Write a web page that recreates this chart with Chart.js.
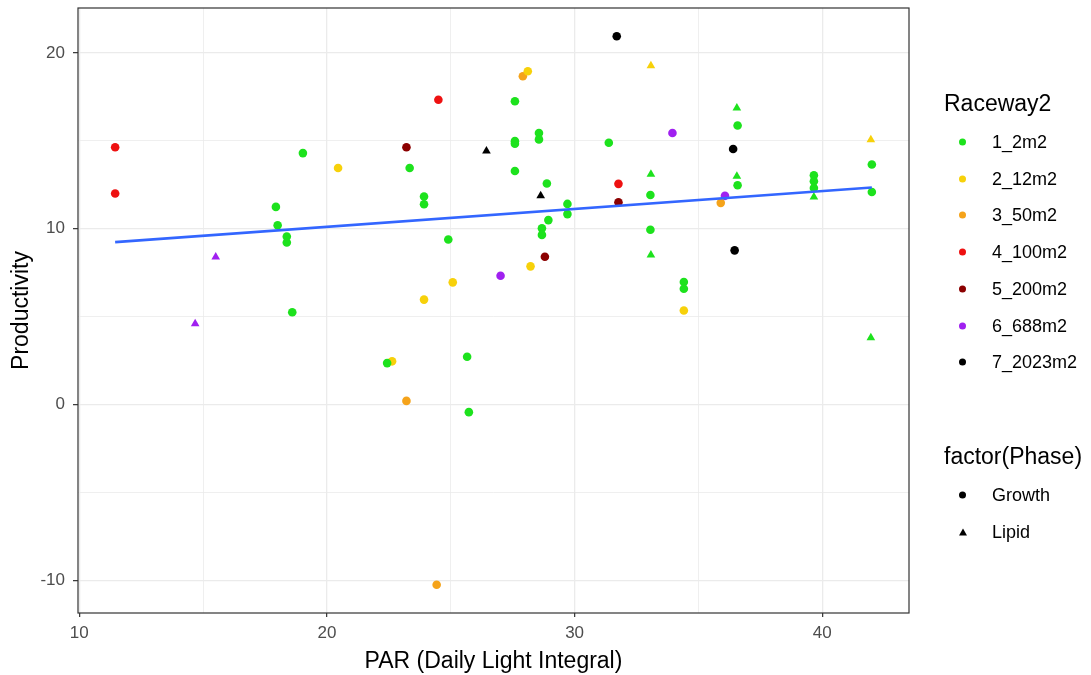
<!DOCTYPE html>
<html>
<head>
<meta charset="utf-8">
<script src="https://cdn.jsdelivr.net/npm/chart.js@4.4.0/dist/chart.umd.min.js"></script>
<style>
  body { margin: 0; background: #fff; font-family: "Liberation Sans", Arial, sans-serif; }
  #wrap { position: relative; width: 1091px; height: 675px; }
  #legend div { position: absolute; white-space: nowrap; transform: translateY(-50%); }
  .ttl { font-size: 23px; color: #000; }
  .lab { font-size: 18px; color: #000; }
  .dot { width: 7px; height: 7px; border-radius: 50%; }
  .tri { width: 0; height: 0; border-left: 4px solid transparent; border-right: 4px solid transparent; border-bottom: 7px solid #000; }
</style>
</head>
<body>
<div id="wrap">
  <canvas id="chart" width="1091" height="675"></canvas>
  <div id="legend"></div>
</div>
<script>
// legend groups
const raceways = ["1_2m2", "2_12m2", "3_50m2", "4_100m2", "5_200m2", "6_688m2", "7_2023m2"];
const raceColors = ["#1de21d", "#f7d10a", "#f5a31a", "#ee1111", "#8b0000", "#a020f0", "#000000"];
const phases = ["Growth", "Lipid"];

// one entry per observation: PAR, productivity, raceway index, phase index
const par = [
  19.03, 23.34, 17.94, 23.92, 23.92, 18.01, 18.38, 18.38, 24.9, 18.6, 22.43, 25.66, 25.73,
  27.59, 28.56, 28.56, 27.59, 27.59, 31.38, 36.58, 42.0, 27.59, 36.58, 28.88, 33.06,
  39.66, 39.66, 39.66, 42.0, 29.71, 29.71, 28.94, 28.68, 28.68, 33.06, 34.41, 34.41,
  36.55, 33.08, 36.55, 33.08, 39.66, 41.96,
  20.45, 25.08, 23.92, 28.11, 28.22, 34.41, 22.63,
  33.08, 41.96,
  27.91, 35.9, 23.21, 24.43,
  11.45, 11.45, 24.5, 31.77,
  23.21, 31.77, 28.8,
  27.01, 33.95, 36.07,
  15.51, 14.68,
  31.7, 36.4, 36.46,
  26.44, 28.63
];
const productivity = [
  14.3, 13.45, 11.24, 11.83, 11.39, 10.2, 9.56, 9.22, 9.39, 5.25, 2.36, 2.72, -0.43,
  17.25, 15.44, 15.08, 14.98, 14.83, 14.89, 15.87, 13.65, 13.28, 12.47, 12.57, 11.92,
  13.04, 12.7, 12.32, 12.09, 11.41, 10.83, 10.49, 10.02, 9.65, 9.94, 6.97, 6.59,
  16.87, 13.1, 12.98, 8.5, 11.8, 3.8,
  13.45, 6.95, 5.97, 18.95, 7.86, 5.35, 2.46,
  19.27, 15.06,
  18.67, 11.47, 0.21, -10.24,
  14.63, 12.0, 17.33, 12.55,
  14.63, 11.5, 8.41,
  7.33, 15.44, 11.87,
  8.39, 4.59,
  20.94, 14.53, 8.77,
  14.42, 11.88
];
const raceway = [
  0, 0, 0, 0, 0, 0, 0, 0, 0, 0, 0, 0, 0,
  0, 0, 0, 0, 0, 0, 0, 0, 0, 0, 0, 0,
  0, 0, 0, 0, 0, 0, 0, 0, 0, 0, 0, 0,
  0, 0, 0, 0, 0, 0,
  1, 1, 1, 1, 1, 1, 1,
  1, 1,
  2, 2, 2, 2,
  3, 3, 3, 3,
  4, 4, 4,
  5, 5, 5,
  5, 5,
  6, 6, 6,
  6, 6
];
const phase = [
  0, 0, 0, 0, 0, 0, 0, 0, 0, 0, 0, 0, 0,
  0, 0, 0, 0, 0, 0, 0, 0, 0, 0, 0, 0,
  0, 0, 0, 0, 0, 0, 0, 0, 0, 0, 0, 0,
  1, 1, 1, 1, 1, 1,
  0, 0, 0, 0, 0, 0, 0,
  1, 1,
  0, 0, 0, 0,
  0, 0, 0, 0,
  0, 0, 0,
  0, 0, 0,
  1, 1,
  0, 0, 0,
  1, 1
];

// fitted lm line, ends
const trendPar = [11.45, 42.0];
const trendProd = [9.24, 12.34];

const n = par.length;
const datasets = [];
raceways.forEach((name, r) => {
  phases.forEach((ph, p) => {
    const pts = [];
    for (let i = 0; i < n; i++) {
      if (raceway[i] === r && phase[i] === p) pts.push({ x: par[i], y: productivity[i] });
    }
    if (!pts.length) return;
    datasets.push({
      type: "scatter",
      label: name + " " + ph,
      data: pts,
      order: 1,
      pointStyle: p === 0 ? "circle" : "triangle",
      pointRadius: p === 0 ? 4.3 : 5,
      backgroundColor: raceColors[r],
      borderColor: raceColors[r],
      borderWidth: 0
    });
  });
});
datasets.push({
  type: "line",
  label: "lm",
  data: trendPar.map((x, i) => ({ x: x, y: trendProd[i] })),
  order: 0,
  borderColor: "#3366ff",
  borderWidth: 2.6,
  pointRadius: 0,
  fill: false
});

const gridColor = (ctx) => (ctx.tick && ctx.tick.value % 5 === 0 ? "#ebebeb" : "transparent");
const gridWidth = (ctx) => (ctx.tick && ctx.tick.value % 10 === 0 ? 1.3 : 0.8);
const tickColor = (ctx) => (ctx.tick && ctx.tick.value % 10 === 0 ? "#333333" : "transparent");

const panelBorder = {
  id: "panelBorder",
  afterDraw(chart) {
    const { ctx, chartArea: a } = chart;
    ctx.save();
    ctx.strokeStyle = "#333333";
    ctx.lineWidth = 1.2;
    ctx.strokeRect(a.left, a.top, a.right - a.left, a.bottom - a.top);
    ctx.restore();
  }
};

Chart.defaults.font.family = '"Liberation Sans", Arial, sans-serif';

new Chart(document.getElementById("chart"), {
  type: "scatter",
  data: { datasets: datasets },
  options: {
    responsive: false,
    animation: false,
    layout: { padding: { left: 0, top: 8, right: 182, bottom: 0 } },
    plugins: { legend: { display: false }, tooltip: { enabled: false } },
    scales: {
      x: {
        type: "linear",
        min: 9.95,
        max: 43.5,
        afterFit(scale) { scale.height = 62; },
        border: { display: false },
        grid: { color: gridColor, lineWidth: gridWidth, tickColor: tickColor, tickLength: 4, tickWidth: 1.2 },
        ticks: {
          stepSize: 5,
          includeBounds: false,
          autoSkip: false,
          maxRotation: 0,
          padding: 6,
          color: "#4d4d4d",
          font: { size: 17 },
          callback: (v) => (v % 10 === 0 ? v : "")
        },
        title: { display: true, text: "PAR (Daily Light Integral)", color: "#000", font: { size: 23 }, padding: { top: 0, bottom: 0 } }
      },
      y: {
        type: "linear",
        min: -11.85,
        max: 22.55,
        afterFit(scale) {
          scale.width = 78;
          scale.paddingTop = 0;
          scale.paddingBottom = 0;
        },
        border: { display: false },
        grid: { color: gridColor, lineWidth: gridWidth, tickColor: tickColor, tickLength: 5, tickWidth: 1.2 },
        ticks: {
          stepSize: 5,
          includeBounds: false,
          autoSkip: false,
          padding: 8,
          color: "#4d4d4d",
          font: { size: 17 },
          callback: (v) => (v % 10 === 0 ? v : "")
        },
        title: { display: true, text: "Productivity", color: "#000", font: { size: 23 }, padding: { top: 8, bottom: 0 } }
      }
    }
  },
  plugins: [panelBorder]
});

// legend, built from the same groups
const legend = document.getElementById("legend");
function addText(cls, text, left, top) {
  const d = document.createElement("div");
  d.className = cls;
  d.textContent = text;
  d.style.left = left + "px";
  d.style.top = top + "px";
  legend.appendChild(d);
}
function addKey(cls, color, left, top) {
  const d = document.createElement("div");
  d.className = cls;
  if (cls === "dot") d.style.background = color;
  d.style.left = left + "px";
  d.style.top = top + "px";
  legend.appendChild(d);
}
addText("ttl", "Raceway2", 944, 103);
raceways.forEach((name, i) => {
  const y = 142 + i * 36.7;
  addKey("dot", raceColors[i], 958.5, y);
  addText("lab", name, 992, y);
});
addText("ttl", "factor(Phase)", 944, 456);
phases.forEach((ph, i) => {
  const y = 495 + i * 36.7;
  addKey(i === 0 ? "dot" : "tri", "#000", 958.5, y);
  addText("lab", ph, 992, y);
});
</script>
</body>
</html>
